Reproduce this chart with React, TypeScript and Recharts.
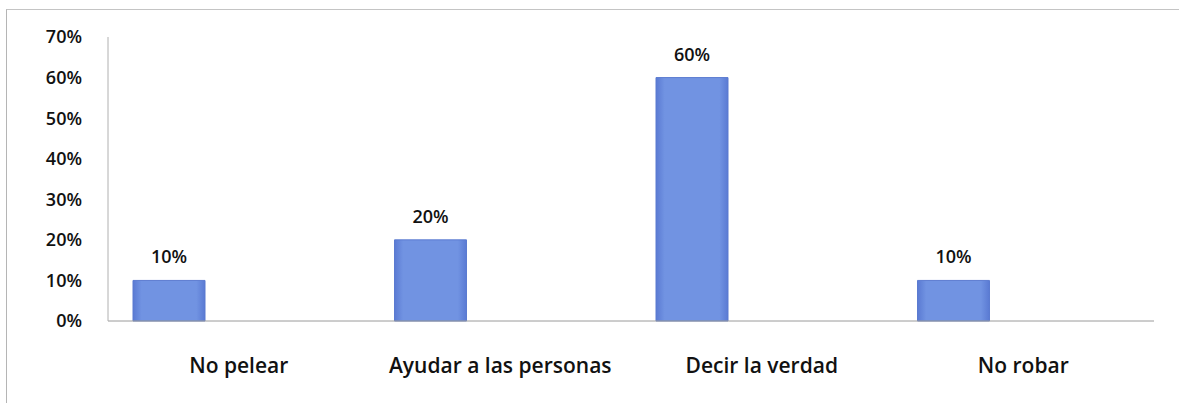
import React from 'react';
import { BarChart, Bar, XAxis, YAxis, LabelList } from 'recharts';

const categorias = ['No pelear', 'Ayudar a las personas', 'Decir la verdad', 'No robar'];
const valores = [0.1, 0.2, 0.6, 0.1];
const vacios = [null, null, null, null];
const ticksY = [0, 0.1, 0.2, 0.3, 0.4, 0.5, 0.6, 0.7];

const data = categorias.map((cat, i) => ({ cat, valor: valores[i], vacio: vacios[i] }));

const pct = (v: number) => `${Math.round(v * 100)}%`;
const fuente = '"Open Sans", "Liberation Sans", sans-serif';

export default function App() {
  return (
    <div style={{ position: 'absolute', left: 0, top: 0, width: 1179, height: 403, background: '#fff' }}>
      {/* marco del gráfico */}
      <div
        style={{
          position: 'absolute',
          left: 6,
          top: 9,
          width: 1173,
          height: 394,
          borderLeft: '1px solid #b5b5b5',
          borderTop: '1px solid #c4c4c4',
        }}
      />
      <BarChart
        width={1179}
        height={403}
        data={data}
        margin={{ top: 37, right: 25, bottom: 0, left: 0 }}
        barGap={67}
        style={{ position: 'absolute', left: 0, top: 0, fontFamily: fuente }}
      >
        <defs>
          <linearGradient id="barra" x1="0" y1="0" x2="1" y2="0">
            <stop offset="0%" stopColor="#5a7ad3" />
            <stop offset="12%" stopColor="#7193e2" />
            <stop offset="88%" stopColor="#7193e2" />
            <stop offset="100%" stopColor="#5a7ad3" />
          </linearGradient>
        </defs>
        <XAxis
          dataKey="cat"
          height={82}
          tickLine={false}
          tickSize={0}
          tickMargin={37}
          axisLine={{ stroke: '#9a9a9a', strokeWidth: 1 }}
          tick={{ fill: '#111', fontSize: 21, fontWeight: 600, fontFamily: fuente }}
          interval={0}
        />
        <YAxis
          width={108}
          domain={[0, 0.7]}
          ticks={ticksY}
          tickFormatter={pct}
          tickLine={false}
          tickSize={0}
          tickMargin={26}
          axisLine={{ stroke: '#b0b0b0', strokeWidth: 1 }}
          tick={{ fill: '#111', fontSize: 18, fontWeight: 600, fontFamily: fuente }}
        />
        <Bar dataKey="valor" barSize={72} fill="url(#barra)" stroke="#5b7bd0" strokeWidth={1} isAnimationActive={false}>
          <LabelList
            dataKey="valor"
            position="top"
            offset={17}
            formatter={(v: number) => pct(v)}
            style={{ fill: '#111', fontSize: 18, fontWeight: 600, fontFamily: fuente }}
          />
        </Bar>
        <Bar dataKey="vacio" barSize={72} fill="none" isAnimationActive={false} />
      </BarChart>
    </div>
  );
}
